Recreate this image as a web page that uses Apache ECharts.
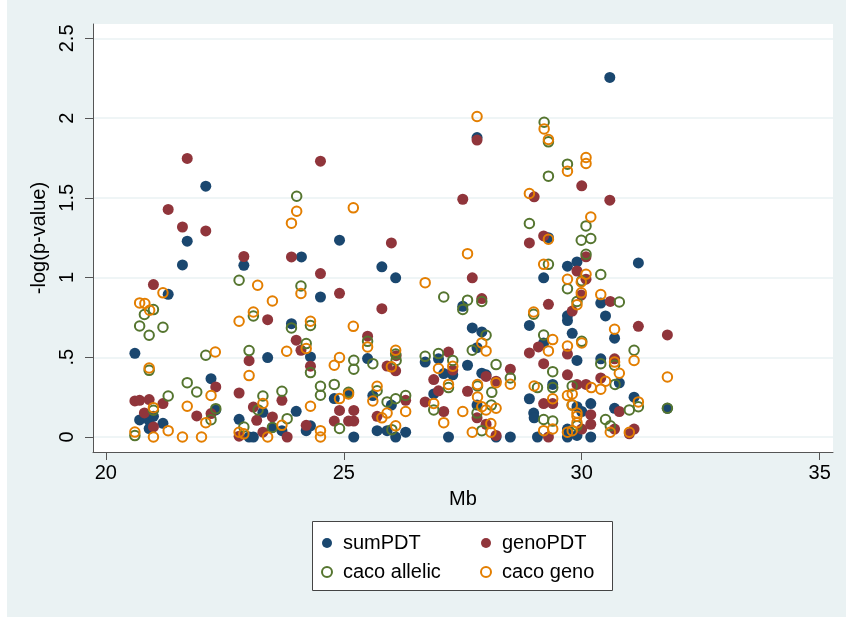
<!DOCTYPE html>
<html>
<head>
<meta charset="utf-8">
<script src="https://cdn.jsdelivr.net/npm/echarts@6/dist/echarts.min.js"></script>
<style>
  html, body { margin: 0; padding: 0; background: #fff; }
  #chart { width: 849px; height: 624px; }
</style>
</head>
<body>
<div id="chart"></div>
<script>
// values: [Mb, -log(p)]
var sumPDT = [
    [20.61,0.525],[20.71,0.107],[20.91,0.104],[21.00,0.13],[20.91,0.053],[21.20,0.086],[21.31,0.895],
    [21.61,1.079],[21.71,1.228],[22.10,1.573],[22.21,0.366],[22.31,0.17],[22.80,0.111],[22.90,1.077],
    [23.01,0.0],[23.10,0.0],[23.30,0.155],[23.40,0.498],[23.50,0.06],[23.70,0.04],[23.90,0.711],
    [24.00,0.161],[24.11,1.129],[24.21,0.04],[24.30,0.07],[24.30,0.502],[24.51,0.878],[24.80,0.241],
    [24.91,1.234],[25.10,0.272],[25.21,0.0],[25.50,0.492],[25.61,0.26],[25.70,0.04],[25.80,1.067],
    [25.91,0.04],[26.00,0.2],[26.09,0.998],[26.09,0.0],[26.30,0.03],[26.71,0.47],[26.89,0.27],
    [26.99,0.49],[27.10,0.398],[27.20,0.0],[27.29,0.39],[27.50,0.82],[27.60,0.45],[27.70,0.684],
    [27.80,1.878],[27.80,0.56],[27.80,0.2],[27.90,0.659],[27.90,0.40],[27.99,0.39],[28.20,0.0],
    [28.50,0.0],[28.90,0.70],[28.90,0.24],[28.99,0.15],[29.00,0.12],[29.07,0.0],[29.20,0.998],
    [29.20,0.59],[29.30,1.25],[29.39,0.33],[29.70,1.071],[29.70,0.76],[29.70,0.73],[29.70,0.05],
    [29.70,0.0],[29.80,0.65],[29.90,1.098],[29.90,0.48],[29.90,0.19],[29.90,0.01],[30.00,0.16],
    [30.19,0.21],[30.19,0.0],[30.40,0.84],[30.40,0.49],[30.50,0.759],[30.59,2.255],[30.69,0.62],
    [30.69,0.18],[30.79,0.34],[31.10,0.25],[31.19,1.092],[31.80,0.18]
];
var genoPDT = [
    [20.61,0.226],[20.71,0.230],[20.91,0.235],[20.81,0.151],[21.00,0.956],[21.00,0.063],[21.20,0.210],
    [21.31,1.427],[21.61,1.317],[21.71,1.747],[21.91,0.132],[22.10,1.292],[22.21,0.147],[22.31,0.314],
    [22.80,0.276],[22.80,0.005],[22.90,1.132],[23.01,0.479],[23.10,0.188],[23.17,0.105],[23.30,0.03],
    [23.40,0.736],[23.50,0.126],[23.70,0.23],[23.81,0.0],[23.90,1.129],[24.00,0.607],[24.10,0.544],
    [24.21,0.073],[24.30,0.444],[24.51,1.730],[24.51,1.025],[24.80,0.10],[24.91,0.901],[24.91,0.167],
    [25.10,0.10],[25.21,0.167],[25.21,0.10],[25.50,0.632],[25.70,0.13],[25.80,0.805],[25.91,0.445],
    [26.00,1.217],[26.09,0.415],[26.10,0.51],[26.30,0.23],[26.71,0.22],[26.89,0.36],[26.99,0.29],
    [27.10,0.16],[27.20,0.533],[27.29,0.42],[27.50,1.491],[27.60,0.287],[27.70,0.998],[27.80,1.862],
    [27.80,0.12],[27.90,0.868],[27.99,0.38],[27.99,0.08],[28.20,0.35],[28.20,0.01],[28.50,0.425],
    [28.90,1.217],[28.90,0.527],[29.00,1.506],[29.09,0.565],[29.20,1.261],[29.20,0.46],[29.20,0.21],
    [29.30,0.832],[29.30,0.0],[29.39,0.21],[29.70,0.52],[29.70,0.39],[29.80,0.79],[29.90,1.041],
    [29.90,0.33],[29.99,0.89],[30.00,1.575],[30.00,0.05],[30.09,1.13],[30.09,0.99],[30.09,0.33],
    [30.19,0.14],[30.19,0.08],[30.40,0.37],[30.59,1.485],[30.60,0.85],[30.69,0.49],[30.69,0.05],
    [30.79,0.16],[31.00,0.02],[31.10,0.05],[31.19,0.694],[31.80,0.640]
];
var cacoAllelic = [
    [20.61,0.009],[20.71,0.696],[20.81,0.768],[20.91,0.638],[20.91,0.418],[21.00,0.799],[21.00,0.168],
    [21.20,0.688],[21.31,0.257],[21.71,0.341],[21.91,0.282],[22.10,0.513],[22.21,0.109],[22.31,0.178],
    [22.80,0.983],[22.90,0.063],[23.01,0.542],[23.10,0.759],[23.20,0.17],[23.30,0.257],[23.50,0.06],
    [23.70,0.287],[23.81,0.115],[23.90,0.684],[24.01,1.510],[24.10,0.947],[24.21,0.586],[24.30,0.70],
    [24.30,0.404],[24.51,0.318],[24.51,0.262],[24.80,0.330],[24.91,0.053],[25.10,0.28],[25.21,0.481],
    [25.21,0.425],[25.50,0.60],[25.61,0.460],[25.70,0.29],[25.91,0.22],[26.01,0.046],[26.09,0.24],
    [26.09,0.52],[26.10,0.48],[26.30,0.26],[26.71,0.506],[26.89,0.17],[26.99,0.523],[27.10,0.878],
    [27.20,0.31],[27.29,0.48],[27.50,0.80],[27.60,0.858],[27.70,0.544],[27.81,0.32],[27.80,0.15],
    [27.90,0.85],[27.90,0.04],[27.99,0.638],[28.10,0.2],[28.11,0.28],[28.20,0.454],[28.50,0.37],
    [28.90,1.339],[28.99,0.77],[29.07,0.31],[29.20,0.64],[29.20,0.11],[29.21,1.974],[29.30,1.851],
    [29.30,1.636],[29.30,1.083],[29.39,0.41],[29.39,0.31],[29.39,0.10],[29.70,1.711],[29.70,0.93],
    [29.80,0.32],[29.80,0.2],[29.90,0.85],[29.90,0.07],[29.99,1.234],[30.00,0.98],[30.00,0.60],
    [30.09,1.324],[30.09,1.146],[30.19,1.245],[30.40,1.019],[30.40,0.46],[30.50,0.11],[30.60,0.07],
    [30.69,0.45],[30.70,0.33],[30.79,0.847],[31.00,0.17],[31.10,0.544],[31.19,0.19],[31.80,0.18]
];
var cacoGeno = [
    [20.61,0.031],[20.71,0.841],[20.82,0.837],[20.92,0.795],[20.91,0.433],[21.00,0.184],[21.00,0.0],
    [21.20,0.904],[21.31,0.040],[21.61,0.0],[21.71,0.193],[22.01,0.0],[22.10,0.090],[22.21,0.260],
    [22.30,0.533],[22.80,0.726],[22.80,0.03],[22.90,0.02],[23.01,0.385],[23.10,0.784],[23.19,0.952],
    [23.30,0.21],[23.40,0.0],[23.50,0.853],[23.70,0.073],[23.80,0.538],[23.90,1.341],[24.01,1.416],
    [24.10,0.900],[24.21,0.555],[24.30,0.726],[24.30,0.193],[24.51,0.04],[24.51,0.0],[24.80,0.450],
    [24.91,0.498],[24.91,0.241],[25.10,0.27],[25.20,1.437],[25.20,0.694],[25.50,0.565],[25.61,0.226],
    [25.70,0.318],[25.80,0.12],[25.91,0.15],[26.00,0.44],[26.09,0.544],[26.09,0.07],[26.30,0.16],
    [26.71,0.968],[26.89,0.21],[26.99,0.43],[27.10,0.09],[27.20,0.33],[27.29,0.444],[27.50,0.16],
    [27.60,1.150],[27.70,0.03],[27.80,2.010],[27.81,0.329],[27.81,0.251],[27.90,0.590],[27.90,0.19],
    [27.99,0.54],[27.99,0.17],[28.09,0.084],[28.09,0.03],[28.20,0.34],[28.20,0.18],[28.50,0.331],
    [28.90,1.527],[28.99,0.784],[29.00,0.32],[29.20,1.083],[29.20,0.04],[29.21,1.932],[29.30,1.866],
    [29.30,1.24],[29.30,0.54],[29.39,0.611],[29.39,0.24],[29.39,0.05],[29.70,1.667],[29.70,0.989],
    [29.70,0.57],[29.70,0.26],[29.70,0.03],[29.80,0.27],[29.80,0.2],[29.80,0.04],[29.90,0.83],
    [29.90,0.15],[29.90,0.13],[29.90,0.09],[29.99,0.972],[29.99,0.904],[30.00,0.59],[30.09,1.753],
    [30.09,1.715],[30.09,1.021],[30.19,1.380],[30.20,0.31],[30.40,0.893],[30.40,0.30],[30.50,0.35],
    [30.60,0.03],[30.69,0.676],[30.69,0.47],[30.79,0.40],[31.00,0.03],[31.10,0.48],[31.19,0.22],
    [31.80,0.376]
];

var xTicks = [20, 25, 30, 35];
var yTicks = [0, 0.5, 1, 1.5, 2, 2.5];
var yTickLabels = ['0', '.5', '1', '1.5', '2', '2.5'];

var FONT = "'Liberation Sans', Arial, sans-serif";

function filled(name, data, color) {
    return {
        name: name,
        type: 'scatter',
        data: data,
        symbol: 'circle',
        symbolSize: 11,
        itemStyle: {color: color, opacity: 1},
        emphasis: {disabled: true}
    };
}

function hollow(name, data, color) {
    return {
        name: name,
        type: 'scatter',
        data: data,
        symbol: 'circle',
        symbolSize: 9.5,
        itemStyle: {color: 'rgba(255,255,255,0)', borderColor: color, borderWidth: 2, opacity: 1},
        emphasis: {disabled: true}
    };
}

var chart = echarts.init(document.getElementById('chart'), null, {renderer: 'canvas'});

var legendText = {fontFamily: FONT, fontSize: 20, color: '#000', padding: [0, 0, 0, 6]};

var option = {
    animation: false,
    backgroundColor: '#fff',
    textStyle: {fontFamily: FONT},
    graphic: [
        {type: 'rect', z: -10, silent: true, shape: {x: 7, y: 0, width: 839, height: 617},
            style: {fill: '#eaf2f3'}},
        {type: 'rect', z: -5, silent: true, shape: {x: 312.5, y: 521.5, width: 300, height: 69},
            style: {fill: '#fff', stroke: '#444', lineWidth: 1}}
    ],
    grid: {
        left: 93, top: 24, right: 16, bottom: 172,
        show: true, backgroundColor: '#fff', borderWidth: 0
    },
    legend: [
        {
            data: ['sumPDT', 'caco allelic'], orient: 'vertical', left: 316, top: 528,
            itemWidth: 10, itemHeight: 10, itemGap: 9, textStyle: legendText
        },
        {
            data: ['genoPDT', 'caco geno'], orient: 'vertical', left: 475, top: 528,
            itemWidth: 10, itemHeight: 10, itemGap: 9, textStyle: legendText
        }
    ],
    xAxis: {
        type: 'value',
        min: 19.73, max: 35.28,
        name: 'Mb', nameLocation: 'middle', nameGap: 37,
        nameTextStyle: {fontFamily: FONT, fontSize: 20, color: '#000'},
        axisLine: {show: true, onZero: false, lineStyle: {color: '#555', width: 1}},
        axisTick: {show: true, length: 8, customValues: xTicks, lineStyle: {color: '#555'}},
        axisLabel: {customValues: xTicks, fontFamily: FONT, fontSize: 20, color: '#000', margin: 11},
        splitLine: {show: false}
    },
    yAxis: {
        type: 'value',
        min: -0.094, max: 2.59,
        name: '-log(p-value)', nameLocation: 'middle', nameGap: 36, nameRotate: 90,
        nameTextStyle: {fontFamily: FONT, fontSize: 20, color: '#000'},
        axisLine: {show: true, onZero: false, lineStyle: {color: '#555', width: 1}},
        axisTick: {show: true, length: 8, customValues: yTicks, lineStyle: {color: '#555'}},
        axisLabel: {
            customValues: yTicks, rotate: 90, fontFamily: FONT, fontSize: 20, color: '#000', margin: 16,
            formatter: function (v) {
                var i = yTicks.indexOf(v);
                return i >= 0 ? yTickLabels[i] : '';
            }
        },
        splitLine: {show: true, lineStyle: {color: '#eaf2f3', width: 1.5}}
    },
    series: [
        filled('sumPDT', sumPDT, '#1a476f'),
        filled('genoPDT', genoPDT, '#90353b'),
        hollow('caco allelic', cacoAllelic, '#55752f'),
        hollow('caco geno', cacoGeno, '#e37e00')
    ]
};

chart.setOption(option);
</script>
</body>
</html>
